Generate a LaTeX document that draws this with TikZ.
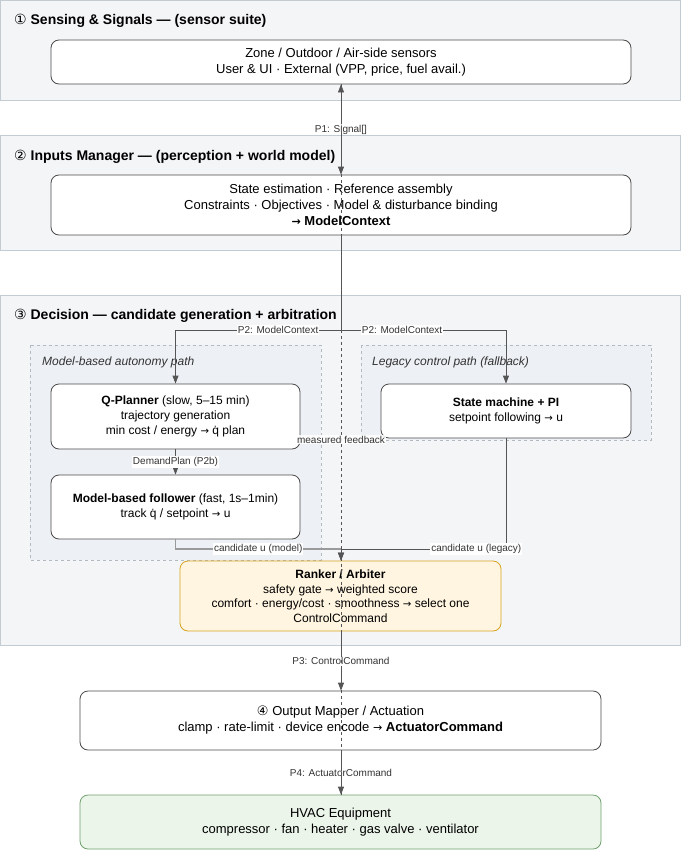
\documentclass[tikz,border=0pt]{standalone}
\usepackage{fontspec}
\setmainfont{Liberation Sans}
\newfontfamily\symfont{DejaVu Sans}
\usetikzlibrary{arrows.meta}

\definecolor{panelbg}{HTML}{F4F5F7}
\definecolor{panelline}{HTML}{C3CBD3}
\definecolor{lanebg}{HTML}{EDF0F5}
\definecolor{laneline}{HTML}{B4BAC2}
\definecolor{blockline}{HTML}{4A4A4A}
\definecolor{rankbg}{HTML}{FFF5E1}
\definecolor{rankline}{HTML}{D9A520}
\definecolor{hvacbg}{HTML}{EBF5EA}
\definecolor{hvacline}{HTML}{6FA06E}
\definecolor{flowline}{HTML}{555555}
\definecolor{modelline}{HTML}{9A9A9A}
\definecolor{lbltext}{HTML}{333333}

% small right arrow used inside the block texts
\newcommand\rarr{{\symfont\fontsize{0.85em}{1em}\selectfont →}}

\begin{document}
\begin{tikzpicture}
        [x=1pt, y=-1pt,
        panel/.style={draw=panelline, fill=panelbg, line width=0.8pt},
        lane/.style={draw=laneline, fill=lanebg, line width=0.6pt, dash pattern=on 3pt off 3pt},
        title/.style={anchor=west, inner sep=0pt, font=\fontsize{14}{16}\selectfont\bfseries},
        lanetitle/.style={anchor=west, inner sep=0pt, font=\fontsize{12}{14}\selectfont\itshape, text=lbltext},
        block/.style={draw=blockline, fill=white, rounded corners=8pt, line width=0.8pt,
                align=center, inner sep=0pt, font=\fontsize{13}{16}\selectfont},
        smallblock/.style={block, font=\fontsize{12}{15}\selectfont},
        ranker/.style={smallblock, draw=rankline, fill=rankbg, font=\fontsize{12}{14.5}\selectfont},
        hvac/.style={block, draw=hvacline, fill=hvacbg},
        flow/.style={draw=flowline, line width=0.8pt, -{Triangle[length=8pt, width=6pt]}},
        modelflow/.style={draw=modelline, line width=1.6pt},
        feedback/.style={draw=flowline, line width=0.6pt, dash pattern=on 3pt off 3pt,
                -{Triangle[length=8pt, width=6pt]}},
        lbl/.style={fill=white, inner sep=1pt, text=lbltext, font=\fontsize{10}{12}\selectfont}]

        \useasboundingbox (0,0) rectangle (681,851);

        % section panels
        \draw[panel] (0.5,0.5) rectangle (680.5,100);
        \draw[panel] (0.5,135) rectangle (680.5,250);
        \draw[panel] (0.5,295) rectangle (680.5,645);
        \node[title] at (14,21) {{\symfont\mdseries ①} Sensing \& Signals — (sensor suite)};
        \node[title] at (14,157) {{\symfont\mdseries ②} Inputs Manager — (perception + world model)};
        \node[title] at (14,316) {{\symfont\mdseries ③} Decision — candidate generation + arbitration};

        % candidate paths
        \draw[lane] (30,345) rectangle (321,560);
        \draw[lane] (361,345) rectangle (651,440);
        \node[lanetitle] at (42,362) {Model-based autonomy path};
        \node[lanetitle] at (372,362) {Legacy control path (fallback)};

        % blocks
        \node[block, minimum width=580pt, minimum height=44pt] (sens) at (341,62)
                {Zone / Outdoor / Air-side sensors\\User \& UI · External (VPP, price, fuel avail.)};
        \node[block, minimum width=580pt, minimum height=60pt] (inp) at (341,205)
                {State estimation · Reference assembly\\Constraints · Objectives · Model \& disturbance binding\\\textbf{\rarr\ ModelContext}};
        \node[smallblock, minimum width=249pt, minimum height=65pt] (qp) at (175.5,416.5)
                {\textbf{Q-Planner} (slow, 5–15 min)\\trajectory generation\\min cost / energy \rarr\ q̇ plan};
        \node[smallblock, minimum width=249pt, minimum height=64pt] (fol) at (175.5,507)
                {\textbf{Model-based follower} (fast, 1s–1min)\\track q̇ / setpoint \rarr\ u};
        \node[smallblock, minimum width=250pt, minimum height=54pt] (sm) at (506,411)
                {\textbf{State machine + PI}\\setpoint following \rarr\ u};
        \node[ranker, minimum width=321pt, minimum height=70pt] (rk) at (340.5,596)
                {\textbf{Ranker / Arbiter}\\safety gate \rarr\ weighted score\\comfort · energy/cost · smoothness \rarr\ select one\\ControlCommand};
        \node[block, minimum width=521pt, minimum height=59pt] (om) at (340.5,720.5)
                {{\symfont ④} Output Mapper / Actuation\\clamp · rate-limit · device encode \rarr\ \textbf{ActuatorCommand}};
        \node[hvac, minimum width=521pt, minimum height=54pt] (hv) at (340.5,822)
                {HVAC Equipment\\compressor · fan · heater · gas valve · ventilator};

        \coordinate (split) at (341,330);
        \coordinate (merge) at (341,549);

        % main flow
        \draw[flow] (sens.south -| 341,0) -- node[lbl] {P1: Signal[]} (inp.north -| 341,0);
        \draw[flow] (inp.south -| 341,0) -- (split) -- node[lbl, pos=0.38] {P2: ModelContext}
                (split -| qp.north) -- (qp.north);
        \draw[flow] (split) -- node[lbl, pos=0.37] {P2: ModelContext}
                (split -| sm.north) -- (sm.north);
        \draw[flow] (qp.south) -- node[lbl] {DemandPlan (P2b)} (fol.north);

        % candidates into the ranker
        \draw[modelflow] (fol.south) |- node[lbl, pos=0.75] {candidate u (model)} (merge);
        \draw[flow] (merge) -- (rk.north -| 341,0);
        \draw[flow] (sm.south) |- node[lbl, pos=0.59] {candidate u (legacy)} (merge) -- (rk.north -| 341,0);

        \draw[flow] (rk.south -| 341,0) -- node[lbl] {P3: ControlCommand} (om.north -| 341,0);
        \draw[flow] (om.south -| 341,0) -- node[lbl] {P4: ActuatorCommand} (hv.north -| 341,0);

        % feedback from the plant
        \draw[feedback] (hv.north -| 341,0) -- node[lbl, fill opacity=0.85, text opacity=1] {measured feedback}
                (sens.south -| 341,0);

\end{tikzpicture}
\end{document}
